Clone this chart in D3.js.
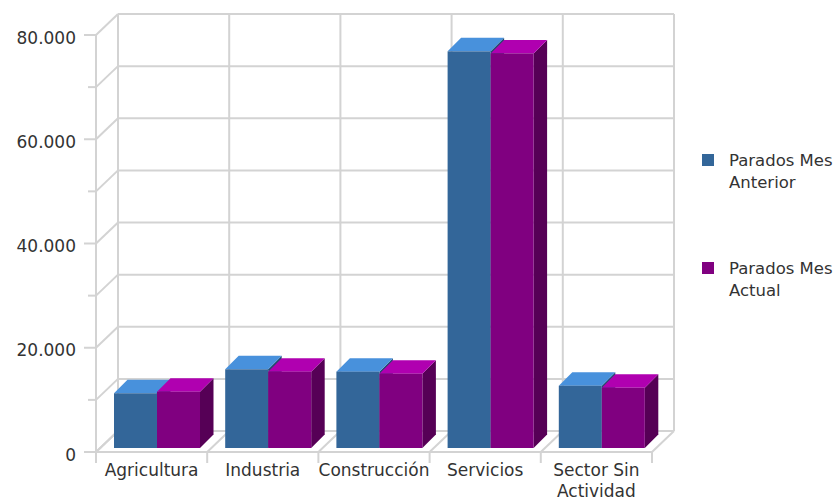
<!DOCTYPE html>
<html><head><meta charset="utf-8">
<script src="https://cdn.jsdelivr.net/npm/d3@7"></script>
<style>html,body{margin:0;padding:0;background:#fff}svg{display:block}text{font-family:"DejaVu Sans",sans-serif;fill:#333}</style>
</head><body><svg id="c" width="840" height="501"></svg>
<script>
const categories = ["Agricultura","Industria","Construcción","Servicios","Sector Sin Actividad"];
const seriesNames = ["Parados Mes Anterior","Parados Mes Actual"];
const anterior = [10500, 15100, 14650, 76100, 11950];
const actual = [10800, 14650, 14250, 75700, 11550];
const yTicks = [0,20000,40000,60000,80000];
const yTickLabels = ["0","20.000","40.000","60.000","80.000"];

const svg = d3.select("#c");
const W = 840, H = 501;
const fx0 = 96, fx1 = 652, fy0 = 452, fy1 = 35;
const wdx = 22, wdy = 21;          // wall depth
const boff = 4;                    // bar front plane offset
const bdx = 13.5, bdy = 13.5;      // bar depth
const grid = "#d3d3d3";

const y = d3.scaleLinear().domain([0,80000]).range([fy0, fy1]);
const x0 = d3.scaleBand().domain(categories).range([fx0, fx1]);
const x1 = d3.scaleBand().domain(seriesNames).range([0, 86]);

const g = svg.append("g");
const minor = d3.range(0, 80001, 10000);

// back wall horizontal gridlines and left wall diagonals
minor.forEach(v => {
  g.append("line").attr("x1", fx0+wdx).attr("x2", fx1+wdx).attr("y1", y(v)-wdy).attr("y2", y(v)-wdy)
    .attr("stroke", grid).attr("stroke-width", 2);
  g.append("line").attr("x1", fx0).attr("x2", fx0+wdx).attr("y1", y(v)).attr("y2", y(v)-wdy)
    .attr("stroke", grid).attr("stroke-width", 2);
  const major = v % 20000 === 0;
  g.append("line").attr("x1", major ? fx0-12 : fx0-8).attr("x2", fx0).attr("y1", y(v)).attr("y2", y(v))
    .attr("stroke", grid).attr("stroke-width", 2);
});
// back wall verticals and floor diagonals
const bounds = categories.map(c => x0(c)).concat([fx1]);
bounds.forEach(bx => {
  g.append("line").attr("x1", bx+wdx).attr("x2", bx+wdx).attr("y1", y(80000)-wdy).attr("y2", y(0)-wdy)
    .attr("stroke", grid).attr("stroke-width", 2);
  g.append("line").attr("x1", bx).attr("x2", bx+wdx).attr("y1", y(0)).attr("y2", y(0)-wdy)
    .attr("stroke", grid).attr("stroke-width", 2);
  g.append("line").attr("x1", bx).attr("x2", bx).attr("y1", y(0)).attr("y2", y(0)+11)
    .attr("stroke", grid).attr("stroke-width", 2);
});
// front axes
g.append("line").attr("x1", fx0).attr("x2", fx0).attr("y1", y(80000)).attr("y2", y(0)+11).attr("stroke", grid).attr("stroke-width", 2);
g.append("line").attr("x1", fx0-12).attr("x2", fx1).attr("y1", y(0)).attr("y2", y(0)).attr("stroke", grid).attr("stroke-width", 2);

// y labels
yTicks.forEach((v,i) => {
  g.append("text").attr("x", 76).attr("y", y(v)+8.5).attr("text-anchor","end").attr("font-size", 17).text(yTickLabels[i]);
});
// x labels
const xLabelLines = [["Agricultura"],["Industria"],["Construcción"],["Servicios"],["Sector Sin","Actividad"]];
categories.forEach((c,i) => {
  xLabelLines[i].forEach((t,j) => {
    g.append("text").attr("x", x0(c)+x0.bandwidth()/2).attr("y", 476+j*21).attr("text-anchor","middle").attr("font-size", 17).text(t);
  });
});

// bars
const colors = [
  {front:"#336699", top:"#4891dc", side:"#234a70"},
  {front:"#800080", top:"#b000b0", side:"#560056"}
];
const data = [anterior, actual];
categories.forEach((c,i) => {
  seriesNames.forEach((s,k) => {
    const v = data[k][i];
    const xl = x0(c) + 18 + x1(s);
    const xr = xl + x1.bandwidth();
    const yt = y(v) - boff;
    const yb = y(0) - boff;
    const col = colors[k];
    // side
    g.append("path").attr("d", `M${xr},${yb}L${xr+bdx},${yb-bdy}L${xr+bdx},${yt-bdy}L${xr},${yt}Z`).attr("fill", col.side);
    // top
    g.append("path").attr("d", `M${xl},${yt}L${xl+bdx},${yt-bdy}L${xr+bdx},${yt-bdy}L${xr},${yt}Z`).attr("fill", col.top);
    // front
    g.append("rect").attr("x", xl).attr("y", yt).attr("width", xr-xl).attr("height", yb-yt).attr("fill", col.front);
  });
});

// legend
const legY = [154, 262];
const legLines = [["Parados Mes","Anterior"],["Parados Mes","Actual"]];
seriesNames.forEach((s,k) => {
  g.append("rect").attr("x", 702).attr("y", legY[k]).attr("width", 12).attr("height", 12).attr("fill", colors[k].front);
  legLines[k].forEach((t,j) => {
    g.append("text").attr("x", 729).attr("y", legY[k]+12+j*21.5).attr("font-size", 16.5).text(t);
  });
});
</script></body></html>
